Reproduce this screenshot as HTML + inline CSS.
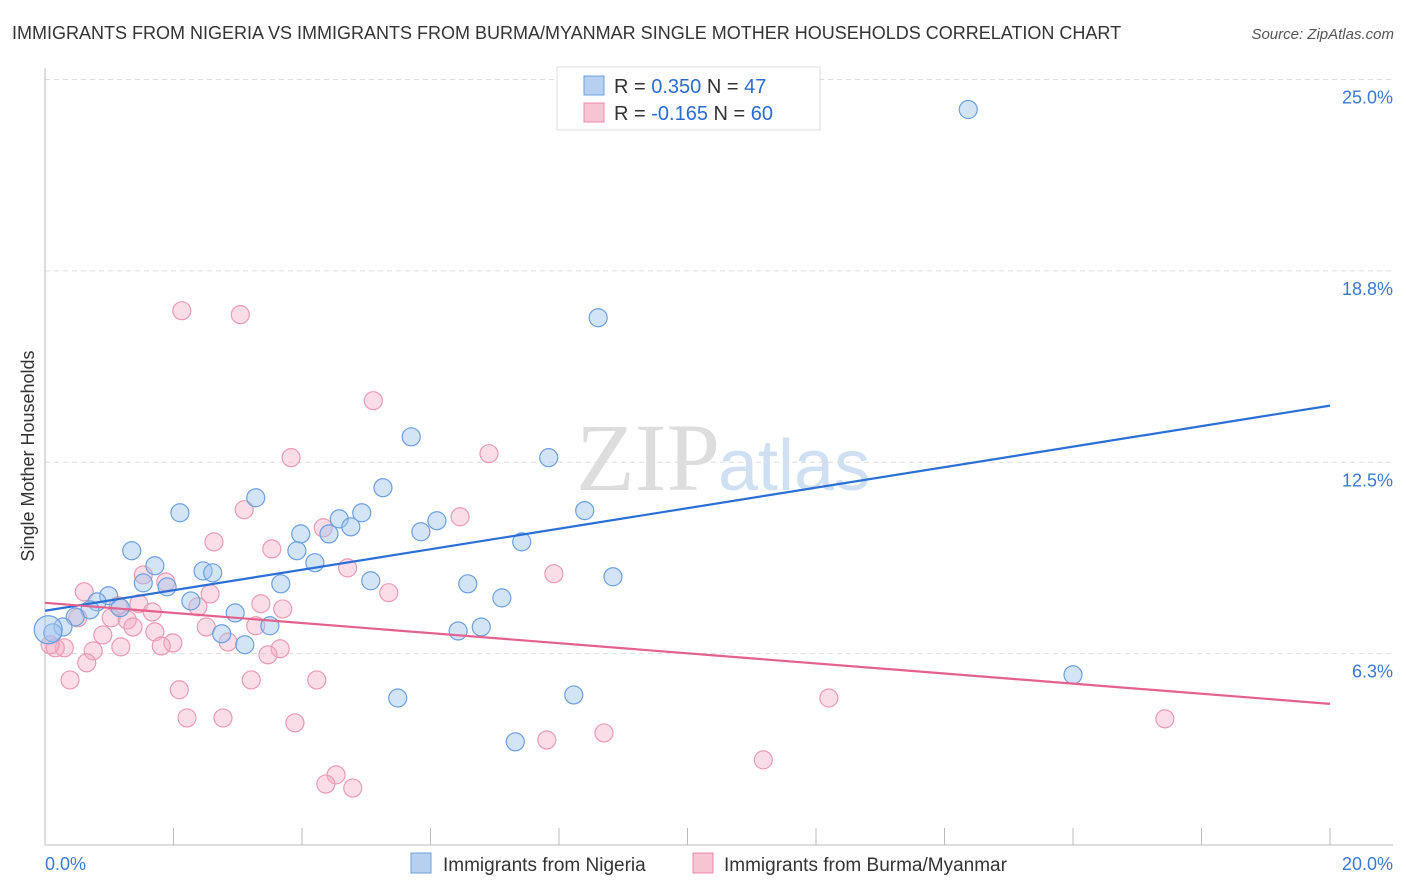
<!DOCTYPE html>
<html><head><meta charset="utf-8"><style>
body{margin:0;background:#fff;font-family:"Liberation Sans",sans-serif}
svg{display:block}
</style></head><body>
<svg id="c" width="1406" height="892" viewBox="0 0 1406 892">
<text x="12" y="39" font-size="18" fill="#333">IMMIGRANTS FROM NIGERIA VS IMMIGRANTS FROM BURMA/MYANMAR SINGLE MOTHER HOUSEHOLDS CORRELATION CHART</text>
<text x="1394" y="39" font-size="15" fill="#555" font-style="italic" text-anchor="end">Source: ZipAtlas.com</text>
<text x="720" y="490" font-size="96" fill="#ddd" text-anchor="end" font-family="Liberation Serif,serif">ZIP</text>
<text x="718" y="490" font-size="72" fill="#cfe0f2">atlas</text>
<g id="grid"></g>
<g id="axes"></g>
<g id="pts"></g>
<g id="lines"></g>
<text transform="translate(34,456) rotate(-90)" font-size="18" fill="#333" text-anchor="middle">Single Mother Households</text>
<g>
<rect x="557" y="67" width="263" height="63" fill="#fff" stroke="#ddd"/>
<rect x="584" y="76" width="20" height="19" fill="#b7d0f0" stroke="#6a9fe0"/>
<rect x="584" y="103" width="20" height="19" fill="#f7c4d4" stroke="#e88aa8"/>
<text x="614" y="93" font-size="20" fill="#333">R = <tspan fill="#2a6bd0">0.350</tspan>   N = <tspan fill="#2a6bd0">47</tspan></text>
<text x="614" y="120" font-size="20" fill="#333">R = <tspan fill="#2a6bd0">-0.165</tspan>   N = <tspan fill="#2a6bd0">60</tspan></text>
</g>
<g>
<rect x="411" y="853" width="20" height="20" fill="#b7d0f0" stroke="#6a9fe0"/>
<text x="443" y="871" font-size="19" fill="#333">Immigrants from Nigeria</text>
<rect x="693" y="853" width="20" height="20" fill="#f7c4d4" stroke="#e88aa8"/>
<text x="724" y="871" font-size="19" fill="#333">Immigrants from Burma/Myanmar</text>
</g>
</svg>
<script>
const yTicks=[6.25,12.5,18.75,25];
const yTickLabels=["6.3%","12.5%","18.8%","25.0%"];
const xTickLabels=["0.0%","20.0%"];
const nigeriaX=[14.37,8.61,5.70,7.84,5.26,3.28,2.10,8.40,4.93,4.58,6.10,4.76,5.85,3.98,4.42,7.42,1.35,3.92,4.20,1.71,2.46,2.61,8.84,5.07,1.53,6.58,3.67,1.90,7.11,0.99,2.27,0.81,1.17,0.70,2.96,0.47,3.50,6.79,0.28,6.43,2.75,0.12,0.05,3.11,16.0,8.23,5.49,7.32];
const nigeriaY=[24.02,17.22,13.33,12.65,11.67,11.34,10.85,10.92,10.85,10.65,10.59,10.39,10.23,10.16,10.16,9.90,9.61,9.61,9.22,9.12,8.95,8.89,8.76,8.63,8.56,8.53,8.53,8.43,8.07,8.14,7.97,7.94,7.75,7.68,7.58,7.45,7.16,7.12,7.12,6.99,6.90,6.93,7.03,6.54,5.56,4.90,4.80,3.37];
const burmaX=[2.13,3.04,5.11,3.83,6.91,6.46,3.10,4.33,2.63,3.53,4.71,7.92,1.53,1.88,0.61,5.35,2.57,1.46,2.38,3.36,3.70,1.14,1.67,0.51,1.03,1.28,1.37,2.51,3.28,0.90,1.71,2.85,1.99,1.81,1.18,3.66,3.47,0.75,0.30,0.16,0.08,0.65,0.39,3.21,4.23,2.09,12.20,2.21,2.77,3.89,17.43,8.70,7.81,11.18,4.53,4.37,4.79];
const burmaY=[17.45,17.32,14.51,12.65,12.78,10.72,10.95,10.36,9.90,9.67,9.05,8.86,8.82,8.59,8.27,8.24,8.20,7.88,7.78,7.88,7.71,7.81,7.61,7.42,7.42,7.35,7.12,7.12,7.16,6.86,6.96,6.63,6.60,6.50,6.47,6.41,6.21,6.34,6.44,6.44,6.54,5.95,5.39,5.39,5.39,5.07,4.80,4.15,4.15,3.99,4.12,3.66,3.43,2.78,2.29,1.99,1.86];
const trendX=[0,20];
const nigeriaTrend=[7.65,14.35];
const burmaTrend=[7.91,4.61];
const NS="http://www.w3.org/2000/svg";
const X=v=>45+v*64.25, Y=v=>845-v*30.62;
function mk(t,a,p){const e=document.createElementNS(NS,t);for(const k in a)e.setAttribute(k,a[k]);p.appendChild(e);return e;}
const grid=document.getElementById('grid'),axes=document.getElementById('axes'),pts=document.getElementById('pts'),lines=document.getElementById('lines');
yTicks.forEach((v,i)=>{
 const l=mk('line',{x1:45,x2:1393,y1:Y(v),y2:Y(v),stroke:'#ddd','stroke-dasharray':'5,4'},grid);
 
 
 const t=mk('text',{x:1393,y:Y(v)+24,'font-size':18,fill:'#3a78d4','text-anchor':'end'},grid);
 t.textContent=yTickLabels[i];
 
 
});
const ax=mk('line',{x1:45,x2:1393,y1:845,y2:845,stroke:'#bbb'},axes);


const ay=mk('line',{x1:45,x2:45,y1:68,y2:845,stroke:'#bbb'},axes);


for(let i=0;i<=10;i++){const tk=mk('line',{x1:X(i*2),x2:X(i*2),y1:828,y2:845,stroke:'#bbb'},axes);
 
 }
[[0,'start',45],[1,'end',1393]].forEach(([i,a,x])=>{const t=mk('text',{x:x,y:870,'font-size':18,fill:'#3a78d4','text-anchor':a},axes);t.textContent=xTickLabels[i];
 
 });
burmaX.forEach((v,i)=>{const c=mk('circle',{cx:X(v),cy:Y(burmaY[i]),r:9,fill:'rgba(244,170,195,0.4)',stroke:'#ec9ab4','stroke-width':1.2},pts);
 
 });
nigeriaX.forEach((v,i)=>{const c=mk('circle',{cx:X(v),cy:Y(nigeriaY[i]),r:i==42?14:9,fill:'rgba(160,195,238,0.45)',stroke:'#6a9fe0','stroke-width':1.2},pts);
 
 });
const l1=mk('line',{x1:X(trendX[0]),x2:X(trendX[1]),y1:Y(nigeriaTrend[0]),y2:Y(nigeriaTrend[1]),stroke:'#2a6fd6','stroke-width':2.2},lines);


const l2=mk('line',{x1:X(trendX[0]),x2:X(trendX[1]),y1:Y(burmaTrend[0]),y2:Y(burmaTrend[1]),stroke:'#e4608e','stroke-width':2.2},lines);


</script>
</body></html>
